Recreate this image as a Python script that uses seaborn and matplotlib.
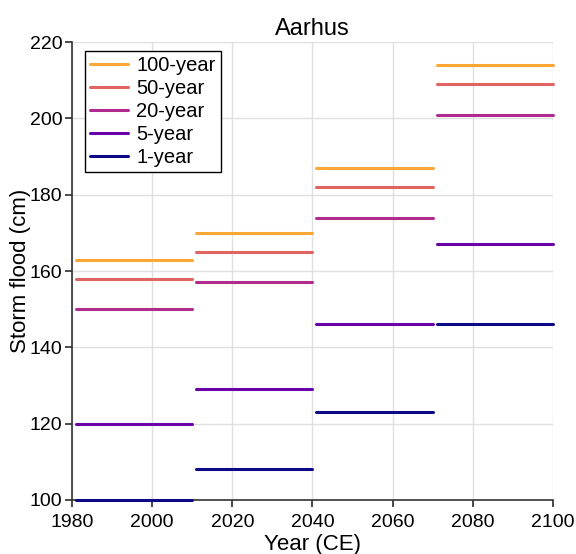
import pandas as pd
import matplotlib.pyplot as plt
import seaborn as sns

# periods (start, end year)
period_start = [1981, 2011, 2041, 2071]
period_end = [2010, 2040, 2070, 2100]

return_periods = ["100-year", "50-year", "20-year", "5-year", "1-year"]
flood_100 = [163, 170, 187, 214]
flood_50 = [158, 165, 182, 209]
flood_20 = [150, 157, 174, 201]
flood_5 = [120, 129, 146, 167]
flood_1 = [100, 108, 123, 146]

COLORS = ["#fca636", "#e16462", "#b12a90", "#6a00a8", "#0d0887"]

rows = []
for name, vals in zip(return_periods, [flood_100, flood_50, flood_20, flood_5, flood_1]):
    for i, (s, e, v) in enumerate(zip(period_start, period_end, vals)):
        rows.append({"rp": name, "seg": i, "year": s, "flood": v})
        rows.append({"rp": name, "seg": i, "year": e, "flood": v})
df = pd.DataFrame(rows)

sns.set_theme(style="whitegrid")
plt.rcParams["font.family"] = ["Liberation Sans", "DejaVu Sans"]
plt.rcParams["text.color"] = "black"
plt.rcParams["axes.labelcolor"] = "black"
plt.rcParams["xtick.color"] = "black"
plt.rcParams["ytick.color"] = "black"

fig, ax = plt.subplots(figsize=(5.76, 5.54), dpi=100)
fig.subplots_adjust(left=0.125, right=0.96, bottom=0.0975, top=0.924)

sns.lineplot(data=df, x="year", y="flood", hue="rp", units="seg", estimator=None,
             hue_order=return_periods, palette=COLORS, linewidth=2.2, ax=ax)
for line in ax.lines:
    line.set_clip_on(False)
    line.set_zorder(3)

ax.set_xlim(1980, 2100)
ax.set_ylim(100, 220)
ax.set_xticks(range(1980, 2101, 20))
ax.set_yticks(range(100, 221, 20))
ax.grid(color="#e0e0e0", linewidth=1)
for side in ["top", "right"]:
    ax.spines[side].set_visible(False)
for side in ["left", "bottom"]:
    ax.spines[side].set_color("#333333")
    ax.spines[side].set_linewidth(1.2)
    ax.spines[side].set_zorder(2)
ax.tick_params(axis="both", which="major", bottom=True, left=True, length=5,
               color="#333333", labelsize=14, pad=2)
ax.tick_params(axis="x", pad=5)
ax.set_xlabel("Year (CE)", fontsize=16, labelpad=2)
ax.set_ylabel("Storm flood (cm)", fontsize=16, labelpad=-1)
ax.set_title("Aarhus", fontsize=17, pad=5)

leg = ax.legend(loc="upper left", fontsize=14.5, frameon=True, fancybox=False,
                handlelength=1.9, handletextpad=0.4, labelspacing=0.2,
                borderpad=0.25, borderaxespad=0, bbox_to_anchor=(0.027, 0.98))
leg.get_frame().set_edgecolor("black")
leg.get_frame().set_linewidth(1)
leg.get_frame().set_alpha(1)

plt.savefig("out.png", dpi=100)
